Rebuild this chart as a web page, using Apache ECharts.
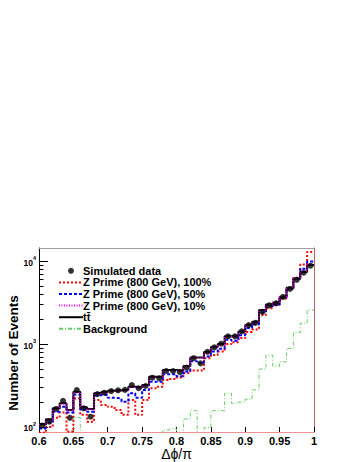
<!DOCTYPE html>
<html>
<head>
<meta charset="utf-8">
<script src="https://cdn.jsdelivr.net/npm/echarts@6/dist/echarts.min.js"></script>
<style>
html,body{margin:0;padding:0;background:#fff;}
#c{width:357px;height:462px;}
</style>
</head>
<body>
<div id="c"></div>
<script>
// ---- data (40 bins of width 0.01 from 0.6 to 1.0) ----
const binEdges = [0.60,0.61,0.62,0.63,0.64,0.65,0.66,0.67,0.68,0.69,0.70,0.71,0.72,0.73,0.74,0.75,0.76,0.77,0.78,0.79,0.80,0.81,0.82,0.83,0.84,0.85,0.86,0.87,0.88,0.89,0.90,0.91,0.92,0.93,0.94,0.95,0.96,0.97,0.98,0.99,1.00];
const simulatedData = [104,116,165,207,129,279,168,133,250,259,271,277,280,321,293,312,393,386,473,473,458,520,675,585,807,912,1010,1238,1238,1422,1694,1806,2450,2925,3100,3700,4620,5950,7240,8800];
const ttbar = [109,124,168,193,160,266,173,165,255,262,274,277,282,306,301,321,404,404,486,486,477,543,690,690,800,920,1000,1240,1240,1420,1700,1860,2570,3000,3170,3710,4770,6170,7420,8960];
const zprime100 = [85,100,129,150,88,221,140,116,211,184,175,160,140,211,140,211,293,306,368,378,395,447,480,480,676,740,815,1000,1050,1180,1400,1500,2230,2700,2950,3550,4600,6300,9100,12900];
const zprime50 = [96,113,153,176,150,247,163,153,238,243,225,221,202,255,225,279,351,351,431,431,408,468,620,590,710,815,877,1125,1100,1274,1560,1720,2400,2850,3000,3650,4700,6150,8100,9900];
const zprime10 = [106,121,164,189,158,262,171,162,252,258,268,270,274,302,294,318,398,396,480,478,470,535,682,680,790,910,990,1225,1230,1410,1690,1850,2560,2990,3160,3720,4790,6200,7500,9150];
const background = [40,40,40,40,40,130,40,40,40,40,40,40,40,40,40,40,40,40,92,95,40,125,157,40,98,157,157,255,193,200,216,280,500,736,540,610,887,1380,1780,2570];
const yMajorTicks = [100,1000,10000];
const yMinorTicks = [200,300,400,500,600,700,800,900,2000,3000,4000,5000,6000,7000,8000,9000];
const legendNames = ['Simulated data','Z Prime (800 GeV), 100%','Z Prime (800 GeV), 50%','Z Prime (800 GeV), 10%','t\u0074\u0304','Background'];

// ---- helpers ----
function stepPoints(vals){
  const pts = vals.map((v,i)=>[binEdges[i], v]);
  pts.push([binEdges[binEdges.length-1], vals[vals.length-1]]);
  return pts;
}
const centers = simulatedData.map((v,i)=>[(binEdges[i]+binEdges[i+1])/2, v]);

const FONT = '"Liberation Sans", Arial, Helvetica, sans-serif';
const chart = echarts.init(document.getElementById('c'), null, {renderer:'svg'});

function hist(name, vals, color, width, type, z){
  return {
    name, type:'line', step:'end', data: stepPoints(vals),
    symbol:'none', showSymbol:false, clip:true, z,
    lineStyle:{color, width, type}, itemStyle:{color},
    animation:false
  };
}

chart.setOption({
  animation:false,
  backgroundColor:'#fff',
  grid:{left:39, right:43, top:248, bottom:30, containLabel:false},
  legend:{
    orient:'vertical', left:53, top:260, itemWidth:24, itemHeight:6, itemGap:0,
    textStyle:{fontSize:11, fontWeight:'bold', fontFamily:FONT, color:'#000', lineHeight:11.6, padding:[0,0,0,-5]},
    data: legendNames.map((n,i)=> i===0 ? {name:n} : {name:n, itemStyle:{opacity:0}}),
    selectedMode:false
  },
  xAxis:[{
    type:'value', min:0.6, max:1, interval:0.05, position:'bottom',
    axisLine:{show:true, lineStyle:{color:'#f09090', width:1}},
    axisTick:{show:true, inside:true, length:5, lineStyle:{color:'#000'}},
    axisLabel:{
      margin:3, color:'#000', fontSize:11, fontWeight:'bold', fontFamily:FONT,
      formatter: v => { if (Math.abs(v-1)<1e-9) return '1'; return v.toFixed(2).replace(/0$/,''); }
    },
    splitLine:{show:false},
    name:'\u0394\u03d5/\u03c0', nameLocation:'middle', nameGap:15,
    nameTextStyle:{fontSize:14, fontFamily:FONT, color:'#000'}
  },{
    type:'value', min:0.6, max:1, position:'top',
    axisLine:{show:true, lineStyle:{color:'#a0a0a0'}},
    axisTick:{show:false}, axisLabel:{show:false}, splitLine:{show:false}
  }],
  yAxis:[{
    type:'log', logBase:10, min:87, max:14400, position:'left',
    axisLine:{show:true, lineStyle:{color:'#000'}},
    axisTick:{show:true, inside:true, length:9, customValues:yMajorTicks, lineStyle:{color:'#000'}},
    axisLabel:{
      customValues:yMajorTicks, margin:3, color:'#000',
      formatter: v => '{b|10}{e|' + Math.round(Math.log10(v)) + '}',
      rich:{
        b:{fontSize:8.5, fontWeight:'bold', fontFamily:FONT, color:'#000', lineHeight:12, verticalAlign:'bottom'},
        e:{fontSize:5.5, fontWeight:'bold', fontFamily:FONT, color:'#000', lineHeight:12, verticalAlign:'top'}
      }
    },
    splitLine:{show:false}
  },{
    type:'log', logBase:10, min:87, max:14400, position:'left',
    axisLine:{show:false},
    axisTick:{show:true, inside:true, length:4.5, customValues:yMinorTicks, lineStyle:{color:'#000'}},
    axisLabel:{show:false}, splitLine:{show:false}
  },{
    type:'log', logBase:10, min:87, max:14400, position:'right',
    axisLine:{show:true, lineStyle:{color:'#b86464'}},
    axisTick:{show:false}, axisLabel:{show:false}, splitLine:{show:false}
  }],
  graphic:[{
    type:'text', x:13, y:353, rotation:Math.PI/2,
    style:{text:'Number of Events', fontSize:13.5, fontWeight:'bold', fontFamily:FONT, fill:'#000', textAlign:'center', textVerticalAlign:'middle'}
  }],
  series:[
    hist('Background', background, '#66cc66', 1, [4,2,1,2], 2),
    hist('Z Prime (800 GeV), 100%', zprime100, '#ff0000', 2, [2,2], 3),
    hist('Z Prime (800 GeV), 50%', zprime50, '#0000ff', 2, [3,2], 4),
    hist('t\u0074\u0304', ttbar, '#000000', 2, 'solid', 5),
    hist('Z Prime (800 GeV), 10%', zprime10, '#ff00ff', 1.5, [1,1.5], 6),
    {
      name:'Simulated data', type:'scatter', data:centers, symbol:'circle', symbolSize:6,
      itemStyle:{color:'#000'}, z:10, animation:false
    }
  ]
});
</script>
</body>
</html>
